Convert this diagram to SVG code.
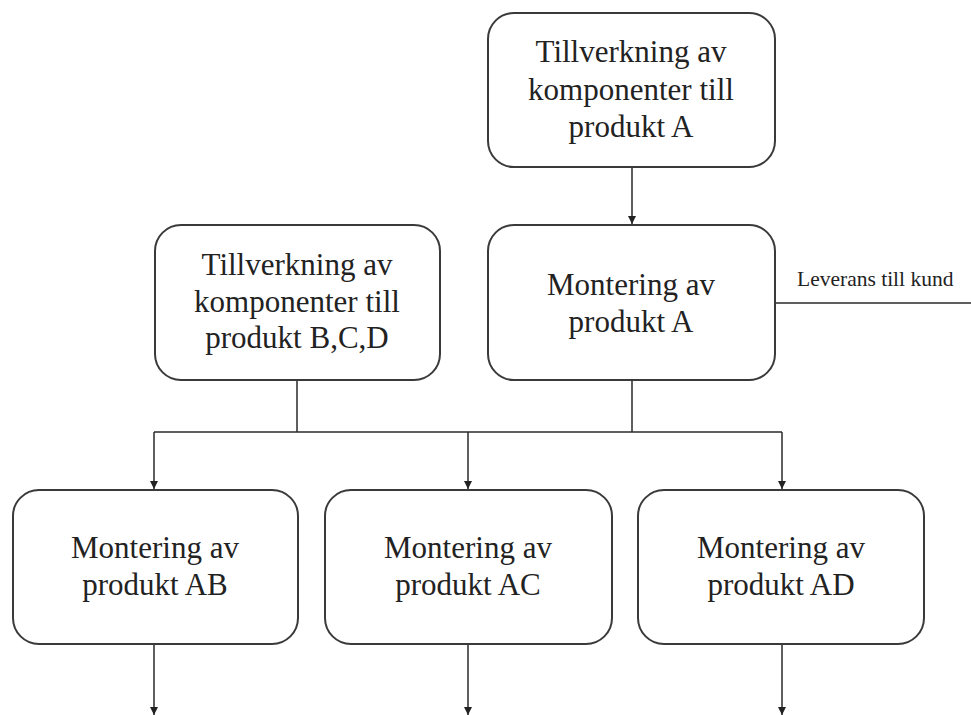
<svg xmlns="http://www.w3.org/2000/svg" width="971" height="715" viewBox="0 0 971 715">
<defs>
<marker id="ah" viewBox="0 0 10 10" refX="10" refY="5" markerWidth="8" markerHeight="8" markerUnits="userSpaceOnUse" orient="auto">
<path d="M0,0 L10,5 L0,10 z" fill="#222"/>
</marker>
<style>
.box{fill:#fff;stroke:#3a3a3a;stroke-width:2}
.t{font-family:"Liberation Serif","Times New Roman",serif;font-size:31px;fill:#222;text-anchor:middle}
.s{font-family:"Liberation Serif","Times New Roman",serif;font-size:21.5px;fill:#222}
.c{fill:none;stroke:#2a2a2a;stroke-width:1.5}
</style>
</defs>
<rect width="971" height="715" fill="#fff"/>
<g id="connectors">
<line class="c" x1="632" y1="167" x2="632" y2="224" marker-end="url(#ah)"/>
<line class="c" x1="775" y1="303" x2="971" y2="303"/>
<line class="c" x1="632" y1="380" x2="632" y2="432"/>
<line class="c" x1="297" y1="380" x2="297" y2="432"/>
<line class="c" x1="154" y1="432" x2="782" y2="432"/>
<line class="c" x1="154" y1="432" x2="154" y2="489" marker-end="url(#ah)"/>
<line class="c" x1="468" y1="432" x2="468" y2="489" marker-end="url(#ah)"/>
<line class="c" x1="782" y1="432" x2="782" y2="489" marker-end="url(#ah)"/>
<line class="c" x1="154" y1="644" x2="154" y2="715" marker-end="url(#ah)"/>
<line class="c" x1="468" y1="644" x2="468" y2="715" marker-end="url(#ah)"/>
<line class="c" x1="782" y1="644" x2="782" y2="715" marker-end="url(#ah)"/>
</g>
<g id="tillverkning-a">
<rect class="box" x="488" y="13" width="287" height="154" rx="26"/>
<text class="t" x="631" y="62">Tillverkning av</text>
<text class="t" x="631" y="100">komponenter till</text>
<text class="t" x="631" y="137">produkt A</text>
</g>
<g id="montering-a">
<rect class="box" x="488" y="225" width="287" height="155" rx="26"/>
<text class="t" x="631" y="295">Montering av</text>
<text class="t" x="631" y="332">produkt A</text>
</g>
<g id="leverans">
<text class="s" x="797" y="286">Leverans till kund</text>
</g>
<g id="tillverkning-bcd">
<rect class="box" x="155" y="225" width="285" height="155" rx="26"/>
<text class="t" x="297" y="275">Tillverkning av</text>
<text class="t" x="297" y="312">komponenter till</text>
<text class="t" x="297" y="348">produkt B,C,D</text>
</g>
<g id="montering-ab">
<rect class="box" x="13" y="490" width="285" height="154" rx="26"/>
<text class="t" x="155" y="558">Montering av</text>
<text class="t" x="155" y="595">produkt AB</text>
</g>
<g id="montering-ac">
<rect class="box" x="325" y="490" width="287" height="154" rx="26"/>
<text class="t" x="468" y="558">Montering av</text>
<text class="t" x="468" y="595">produkt AC</text>
</g>
<g id="montering-ad">
<rect class="box" x="638" y="490" width="286" height="154" rx="26"/>
<text class="t" x="781" y="558">Montering av</text>
<text class="t" x="781" y="595">produkt AD</text>
</g>
</svg>
